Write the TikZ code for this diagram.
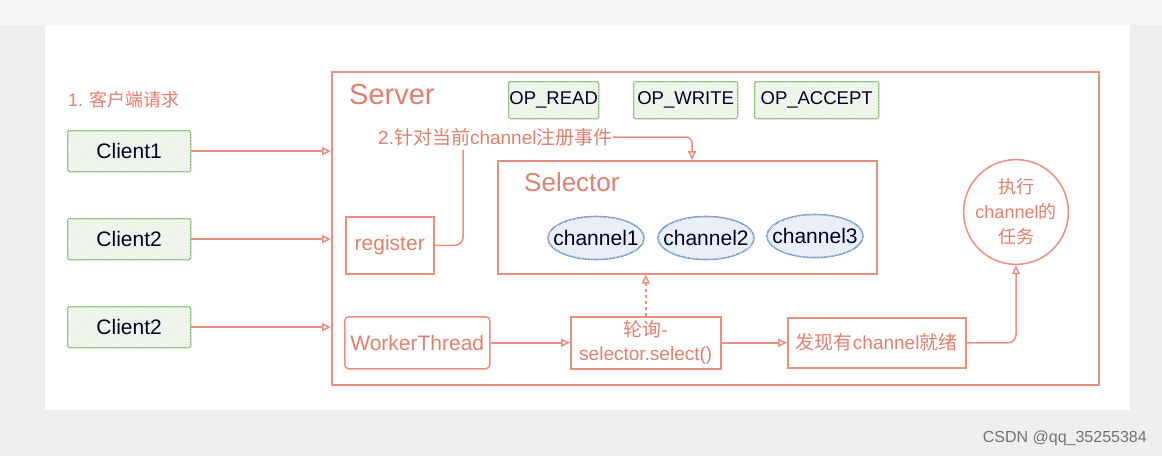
\documentclass[tikz,border=0pt]{standalone}
\usepackage{fontspec}
\setmainfont{Liberation Sans}
\newfontfamily\cjk{Noto Sans CJK SC}
\usetikzlibrary{arrows.meta,patterns,calc,shapes.geometric}
\definecolor{rl}{HTML}{E8907F}
\definecolor{rt}{HTML}{E0806E}
\definecolor{gb}{HTML}{8DBE7B}
\definecolor{gf}{HTML}{F4F9F1}
\definecolor{bb}{HTML}{7D9CCB}
\definecolor{bf}{HTML}{F0F4FA}
\definecolor{bg}{HTML}{EFEFEF}
\begin{document}
\begin{tikzpicture}[x=1pt,y=-1pt,
  fs/.style={font=\fontsize{#1}{#1}\selectfont},
  rbox/.style={draw=rl, line width=1.5pt, inner sep=0pt, anchor=north west, text=rt},
  gbox/.style={draw=gb, line width=1.3pt, fill=gf, postaction={pattern=north east lines, pattern color=gb!25}, inner sep=0pt, anchor=north west, text=black!85!blue, rounded corners=1.5pt},
  chan/.style={ellipse, draw=bb, line width=1.6pt, fill=bf, postaction={pattern=north east lines, pattern color=bb!25}, inner sep=0pt, minimum width=96pt, minimum height=43pt},
  chantext/.style={inner sep=0pt, text=black!85!blue, fs=21},
  conn/.style={draw=rl, line width=1.5pt, -{Triangle[open, length=9pt, width=8pt]}},
  lbl/.style={text=rt, inner sep=0pt}
]
\useasboundingbox (0,0) rectangle (1162,456);
\fill[bg] (0,0) rectangle (1162,456);
\fill[white!50!bg] (0,0) rectangle (1162,25);
\fill[white] (45,25) rectangle (1130,410);

% server frame
\node[rbox, minimum width=767pt, minimum height=313pt] (server) at (331,71) {};
\node[lbl, anchor=west, fs=29] (srvlbl) at (349,95) {Server};

% clients
\node[lbl, anchor=west, fs=18] (req) at (68,100) {1. {\cjk 客户端请求}};
\node[gbox, minimum width=123pt, minimum height=41pt, fs=21] (c1) at (67,130) {Client1};
\node[gbox, minimum width=123pt, minimum height=41pt, fs=21] (c2) at (67,218) {Client2};
\node[gbox, minimum width=123pt, minimum height=41pt, fs=21] (c3) at (67,306) {Client2};
\draw[conn] (c1.east) -- (c1.east -| server.west);
\draw[conn] (c2.east) -- (c2.east -| server.west);
\draw[conn] (c3.east) -- (c3.east -| server.west);

% ops
\node[gbox, minimum width=90pt, minimum height=37pt, fs=18.5] (opr) at (508,81) {OP\_READ};
\node[gbox, minimum width=104pt, minimum height=37pt, fs=18.5] (opw) at (633,81) {OP\_WRITE};
\node[gbox, minimum width=124pt, minimum height=37pt, fs=18.5] (opa) at (754,81) {OP\_ACCEPT};

% register event label
\node[lbl, anchor=west, fs=19] (t2) at (378,137) {2.{\cjk 针对当前}channel{\cjk 注册事件}};

% selector
\node[rbox, minimum width=379pt, minimum height=113pt] (sel) at (497,160) {};
\node[lbl, anchor=west, fs=26] (sellbl) at (524,182) {Selector};
\node[chan] (ch1) at (596,238) {};
\node[chan] (ch2) at (706,238) {};
\node[chan] (ch3) at (815,236) {};
\node[chantext] (ch1t) at (ch1.center) {channel1};
\node[chantext] (ch2t) at (ch2.center) {channel2};
\node[chantext] (ch3t) at (ch3.center) {channel3};
\coordinate (selin) at (692,160);
\draw[conn, rounded corners=6pt] (t2.east) -| (selin);

% register
\node[rbox, minimum width=88pt, minimum height=57pt, fs=21] (reg) at (345,216) {register};
\coordinate (regx) at (463,150);
\draw[draw=rl, line width=1.5pt, rounded corners=8pt] (reg.east) -| (regx);

% bottom row
\node[rbox, rounded corners=4pt, minimum width=145pt, minimum height=52pt, fs=21] (wt) at (344,316) {WorkerThread};
\node[rbox, minimum width=150pt, minimum height=52pt, align=center, font=\fontsize{19}{24}\selectfont] (poll) at (570,316) {{\cjk 轮询}-\\selector.select()};
\node[rbox, minimum width=178pt, minimum height=50pt, fs=19] (found) at (787,317) {{\cjk 发现有}channel{\cjk 就绪}};
\node[circle, draw=rl, line width=1.5pt, minimum size=94pt, inner sep=0pt, text=rt, align=center, font=\fontsize{18}{25}\selectfont] (task) at (1016,212) {{\cjk 执行}\\channel{\cjk 的}\\{\cjk 任务}};

\draw[conn] (wt.east) -- (poll.west);
\draw[conn] (poll.east) -- (poll.east -| found.west);
\draw[conn, dashed] (poll.north) -- (poll.north |- sel.south);
\draw[conn, rounded corners=8pt] (found.east) -| (task.south);

% watermark
\node[anchor=east, inner sep=0pt, text=black!55, fs=16] (wm) at (1147,438) {CSDN @qq\_35255384};
\end{tikzpicture}
\end{document}
